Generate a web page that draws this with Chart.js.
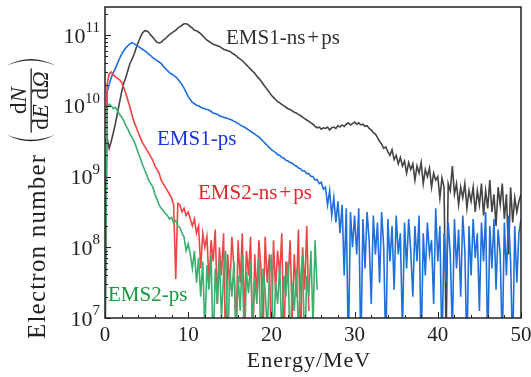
<!DOCTYPE html>
<html>
<head>
<meta charset="utf-8">
<script src="https://cdn.jsdelivr.net/npm/chart.js@4.4.1/dist/chart.umd.min.js"></script>
<style>
html,body{margin:0;padding:0;background:#fff;}
#wrap{width:531px;height:377px;}
</style>
</head>
<body>
<div id="wrap"><canvas id="c" width="531" height="377"></canvas></div>
<script>
// ---- data ----
const energy = [0,0.25,0.5,0.75,1,1.25,1.5,1.75,2,2.25,2.5,2.75,3,3.25,3.5,3.75,4,4.25,4.5,4.75,
5,5.25,5.5,5.75,6,6.25,6.5,6.75,7,7.25,7.5,7.75,8,8.25,8.5,8.75,9,9.25,9.5,9.75,
10,10.25,10.5,10.75,11,11.25,11.5,11.75,12,12.25,12.5,12.75,13,13.25,13.5,13.75,14,14.25,14.5,14.75,
15,15.25,15.5,15.75,16,16.25,16.5,16.75,17,17.25,17.5,17.75,18,18.25,18.5,18.75,19,19.25,19.5,19.75,
20,20.25,20.5,20.75,21,21.25,21.5,21.75,22,22.25,22.5,22.75,23,23.25,23.5,23.75,24,24.25,24.5,24.75,
25,25.25,25.5,25.75,26,26.25,26.5,26.75,27,27.25,27.5,27.75,28,28.25,28.5,28.75,29,29.25,29.5,29.75,
30,30.25,30.5,30.75,31,31.25,31.5,31.75,32,32.25,32.5,32.75,33,33.25,33.5,33.75,34,34.25,34.5,34.75,
35,35.25,35.5,35.75,36,36.25,36.5,36.75,37,37.25,37.5,37.75,38,38.25,38.5,38.75,39,39.25,39.5,39.75,
40,40.25,40.5,40.75,41,41.25,41.5,41.75,42,42.25,42.5,42.75,43,43.25,43.5,43.75,44,44.25,44.5,44.75,
45,45.25,45.5,45.75,46,46.25,46.5,46.75,47,47.25,47.5,47.75,48,48.25,48.5,48.75,49,49.25,49.5,49.75,50];

const ems1nsps = [3.16e9,3.55e9,2.51e9,3.16e9,4.17e9,5.62e9,7.94e9,1.12e10,1.58e10,2.09e10,2.51e10,3.16e10,3.98e10,4.57e10,5.37e10,6.61e10,7.94e10,9.33e10,1.07e11,1.15e11,
1.15e11,1.10e11,1.0e11,9.33e10,8.51e10,7.94e10,7.76e10,7.94e10,8.51e10,8.91e10,9.55e10,1.02e11,1.07e11,1.12e11,1.17e11,1.26e11,1.32e11,1.38e11,1.45e11,1.45e11,
1.41e11,1.32e11,1.26e11,1.17e11,1.15e11,1.10e11,1.05e11,9.77e10,9.12e10,8.51e10,8.13e10,7.76e10,7.41e10,7.24e10,7.08e10,6.92e10,6.61e10,6.31e10,6.17e10,6.03e10,
5.89e10,5.62e10,5.37e10,5.13e10,4.79e10,4.57e10,4.37e10,4.07e10,3.80e10,3.55e10,3.31e10,3.09e10,2.88e10,2.63e10,2.45e10,2.24e10,2.04e10,1.86e10,1.70e10,1.55e10,
1.41e10,1.32e10,1.23e10,1.15e10,1.10e10,1.05e10,1.0e10,9.55e9,9.12e9,8.91e9,8.51e9,8.13e9,7.94e9,7.59e9,7.24e9,6.92e9,6.61e9,6.31e9,6.03e9,5.75e9,
5.50e9,5.13e9,4.90e9,5.01e9,4.68e9,4.90e9,4.79e9,5.01e9,4.57e9,4.90e9,5.01e9,4.79e9,5.25e9,5.01e9,5.37e9,5.13e9,5.50e9,5.75e9,5.37e9,5.62e9,
5.89e9,5.50e9,5.75e9,5.37e9,5.50e9,5.13e9,5.25e9,4.79e9,4.57e9,4.17e9,3.98e9,3.55e9,3.16e9,2.88e9,2.51e9,2.63e9,2.24e9,2.0e9,2.40e9,1.74e9,
2.0e9,1.51e9,1.86e9,1.41e9,1.66e9,1.12e9,1.58e9,1.26e9,1.51e9,8.91e8,1.41e9,1.12e9,1.58e9,7.94e8,1.26e9,1.0e9,1.32e9,7.08e8,1.12e9,8.91e8,
1.0e9,5.01e8,9.55e8,7.08e8,5.0e6,7.94e8,6.31e8,1.41e9,5.62e8,7.94e8,3.98e8,7.08e8,5.01e8,7.94e8,3.55e8,6.31e8,4.47e8,7.08e8,3.16e8,6.31e8,
3.98e8,7.94e8,2.82e8,6.31e8,3.55e8,8.91e8,3.16e8,5.62e8,2.0e8,7.08e8,3.98e8,7.94e8,2.51e8,5.62e8,7.94e7,7.08e8,2.24e8,5.01e8,3.16e8,4.47e8,5.62e8];

const ems1ps = [3.16e6,1.58e10,2.0e10,2.51e10,2.95e10,3.39e10,3.98e10,4.68e10,5.37e10,6.03e10,6.61e10,7.08e10,7.59e10,7.76e10,7.59e10,7.24e10,6.92e10,6.61e10,6.31e10,6.03e10,
5.75e10,5.37e10,5.13e10,4.79e10,4.57e10,4.37e10,4.17e10,3.98e10,3.63e10,3.39e10,3.16e10,2.95e10,2.82e10,2.69e10,2.57e10,2.40e10,2.19e10,2.0e10,1.78e10,1.55e10,
1.35e10,1.23e10,1.12e10,1.07e10,1.02e10,1.0e10,9.55e9,9.33e9,9.12e9,8.91e9,8.71e9,8.32e9,7.94e9,7.76e9,7.59e9,7.24e9,7.08e9,6.92e9,6.76e9,6.61e9,
6.46e9,6.31e9,6.03e9,5.89e9,5.62e9,5.37e9,5.13e9,5.01e9,4.79e9,4.57e9,4.37e9,4.17e9,3.98e9,3.80e9,3.63e9,3.39e9,3.16e9,2.95e9,2.75e9,2.57e9,
2.40e9,2.29e9,2.19e9,2.04e9,2.0e9,1.86e9,1.82e9,1.70e9,1.66e9,1.58e9,1.55e9,1.45e9,1.41e9,1.32e9,1.29e9,1.20e9,1.20e9,1.10e9,1.10e9,1.0e9,
1.0e9,8.91e8,9.12e8,7.94e8,8.32e8,6.61e8,7.08e8,3.98e8,6.31e8,2.82e8,5.01e8,2.24e8,4.47e8,1.58e8,3.98e8,3.98e7,3.55e8,3.16e6,3.16e8,1.0e8,
2.82e8,7.94e7,3.55e8,3.16e6,2.51e8,5.01e7,3.16e8,1.26e8,1.58e7,2.82e8,7.94e7,2.24e8,3.16e7,3.16e8,1.0e8,3.16e6,2.51e8,6.31e7,2.0e8,2.51e7,
2.82e8,7.94e7,1.58e8,6.31e6,2.24e8,5.01e7,2.51e8,8.91e7,2.0e7,2.0e8,6.31e7,2.82e8,3.16e6,1.58e8,3.98e7,2.24e8,7.94e7,1.26e8,1.58e7,3.55e8,
6.31e7,2.0e8,3.16e6,1.58e8,3.16e7,2.24e8,7.94e7,6.31e6,2.51e8,5.01e7,1.78e8,2.0e7,2.82e8,8.91e7,3.16e6,2.0e8,3.98e7,2.51e8,7.08e7,1.58e8,
1.26e7,2.24e8,6.31e7,3.16e8,3.16e6,2.0e8,5.01e7,2.51e8,2.51e7,1.78e8,7.94e7,3.98e6,2.24e8,3.98e7,2.82e8,6.31e7,3.16e6,2.0e8,3.16e7,1.58e8,2.51e8];

const ems2nsps = [3.16e6,2.0e10,2.82e10,3.02e10,2.75e10,2.57e10,2.45e10,2.34e10,2.14e10,1.82e10,1.51e10,1.20e10,9.55e9,7.41e9,5.89e9,5.01e9,4.17e9,3.55e9,3.02e9,2.69e9,
2.40e9,2.14e9,1.91e9,1.70e9,1.41e9,1.26e9,1.12e9,8.91e8,7.94e8,7.08e8,6.31e8,5.62e8,5.01e8,3.98e8,3.55e7,4.17e8,3.98e8,3.16e8,3.55e8,2.82e8,
3.16e8,2.51e8,2.0e8,2.51e8,1.58e8,2.0e8,5.01e7,1.58e8,1.0e8,1.41e8,3.16e7,1.26e8,6.31e7,1.78e8,1.58e7,1.0e8,3.98e7,1.58e8,3.16e6,7.94e7,
2.51e7,1.41e8,5.01e7,6.31e6,1.26e8,3.16e7,1.58e8,1.0e7,8.91e7,3.98e7,1.41e8,3.16e6,7.94e7,2.0e7,1.26e8,5.01e7,6.31e6,1.41e8,3.16e7,7.94e7,
3.16e6,1.26e8,2.51e7,8.91e7,3.98e7,1.58e8,3.98e6,6.31e7,3.16e7,1.26e8,1.0e7,7.94e7,2.0e7,1.78e8,3.16e6,1.0e8,2.51e7,2.0e8,1.26e7];

const ems2ps = [3.16e6,8.91e9,1.05e10,1.0e10,9.12e9,9.55e9,8.51e9,7.59e9,6.92e9,6.17e9,5.25e9,4.68e9,3.98e9,3.55e9,3.16e9,2.63e9,2.14e9,1.82e9,1.48e9,1.26e9,
1.07e9,8.91e8,7.94e8,7.08e8,5.62e8,4.79e8,3.98e8,3.55e8,3.31e8,3.02e8,2.82e8,2.51e8,2.63e8,2.24e8,2.40e8,2.0e8,1.91e8,1.58e8,1.41e8,8.91e7,
1.12e8,7.94e7,5.01e7,8.91e7,3.16e7,7.08e7,2.0e7,6.31e7,6.31e6,5.62e7,2.51e7,7.94e7,3.16e6,5.01e7,1.58e7,7.08e7,1.0e7,3.98e7,8.91e7,3.16e6,
5.01e7,2.0e7,6.31e7,5.01e6,3.98e7,1.26e7,7.94e7,3.16e6,4.47e7,2.24e7,6.31e7,7.94e6,3.55e7,1.58e7,7.08e7,3.16e6,5.01e7,2.51e7,6.31e6,3.98e7,
7.94e7,3.16e6,3.16e7,1.58e7,5.62e7,5.01e6,3.98e7,2.0e7,6.31e7,3.16e6,3.16e7,1.26e7,5.01e7,6.31e6,3.55e7,7.94e7,3.16e6,3.98e7,2.0e7,8.91e7,
7.94e6,1.26e8,2.51e7];

const xTicks = [0,10,20,30,40,50];
const yTickExps = [7,8,9,10,11];
const seriesNames = ['EMS1-ns+ps','EMS1-ps','EMS2-ns+ps','EMS2-ps'];

// ---- build ----
function pts(vals){ return vals.map((v,i)=>({x:energy[i], y:v})); }

const SERIF = '"Liberation Serif", "Times New Roman", serif';

// draw a label, giving the '+' operator a little math-style spacing
function drawLabel(ctx, text, x, y){
  const parts = text.split('+');
  let cx = x;
  parts.forEach((p, i) => {
    if (i > 0) {
      cx += 2; ctx.fillText('+', cx, y); cx += ctx.measureText('+').width + 2;
    }
    ctx.fillText(p, cx, y); cx += ctx.measureText(p).width;
  });
}

const decor = {
  id:'decor',
  afterDraw(chart){
    const ctx = chart.ctx, a = chart.chartArea;
    const xs = chart.scales.x, ys = chart.scales.y;
    ctx.save();
    // frame
    ctx.strokeStyle = '#222'; ctx.lineWidth = 1.5;
    ctx.strokeRect(a.left, a.top, a.right - a.left, a.bottom - a.top);
    // x ticks (inside)
    ctx.lineWidth = 1; ctx.strokeStyle = '#222';
    ctx.beginPath();
    for (let v = 0; v <= 50; v += 2) {
      const px = Math.round(xs.getPixelForValue(v)) + 0.5;
      const len = (v % 10 === 0) ? 6 : 3;
      ctx.moveTo(px, a.bottom); ctx.lineTo(px, a.bottom - len);
    }
    // y ticks (inside)
    for (const k of yTickExps) {
      for (let m = 1; m <= 9; m++) {
        const val = m * Math.pow(10, k);
        if (val > ys.max) break;
        const py = Math.round(ys.getPixelForValue(val)) + 0.5;
        const len = (m === 1) ? 6 : 3;
        ctx.moveTo(a.left, py); ctx.lineTo(a.left + len, py);
      }
    }
    ctx.stroke();
    // x tick labels
    ctx.fillStyle = '#222';
    ctx.font = '21px ' + SERIF;
    ctx.textAlign = 'center'; ctx.textBaseline = 'alphabetic';
    for (const t of xTicks) ctx.fillText(String(t), xs.getPixelForValue(t), 341);
    // y tick labels 10^k
    for (const k of yTickExps) {
      const py = ys.getPixelForValue(Math.pow(10, k));
      ctx.font = '15px ' + SERIF;
      ctx.textAlign = 'right';
      const sup = String(k);
      const sw = ctx.measureText(sup).width;
      ctx.fillText(sup, 100, py - 3);
      ctx.font = '22px ' + SERIF;
      ctx.fillText('10', 100 - sw, py + 7.5);
    }
    // x title
    ctx.font = '22px ' + SERIF; ctx.textAlign = 'center';
    ctx.letterSpacing = '1px';
    ctx.fillText('Energy/MeV', 309, 367);
    ctx.letterSpacing = '0px';
    // series labels
    ctx.textAlign = 'left';
    ctx.font = '21px ' + SERIF;
    ctx.fillStyle = '#333'; drawLabel(ctx, seriesNames[0], 226, 44);
    ctx.fillStyle = '#1a35e0'; drawLabel(ctx, seriesNames[1], 157, 145);
    ctx.fillStyle = '#e8262a'; drawLabel(ctx, seriesNames[2], 198, 199);
    ctx.fillStyle = '#1a9940'; drawLabel(ctx, seriesNames[3], 108, 301);
    ctx.restore();
    drawYTitle(ctx);
  }
};

function paren(ctx, u, v0, v1, dir){
  // dir = -1 for '(' (bulge toward smaller u), +1 for ')'
  const vm = (v0 + v1) / 2;
  ctx.beginPath();
  ctx.moveTo(u, v0);
  ctx.quadraticCurveTo(u + dir * 13, vm, u, v1);
  ctx.quadraticCurveTo(u + dir * 10, vm, u, v0);
  ctx.closePath();
  ctx.fill();
}

function drawParts(ctx, parts, u, v, size){
  let x = u;
  for (const [t, it] of parts) {
    ctx.font = (it ? 'italic ' : '') + size + 'px ' + SERIF;
    ctx.fillText(t, x, v);
    x += ctx.measureText(t).width;
  }
  return x - u;
}
function partsWidth(ctx, parts, size){
  let w = 0;
  for (const [t, it] of parts) {
    ctx.font = (it ? 'italic ' : '') + size + 'px ' + SERIF;
    w += ctx.measureText(t).width;
  }
  return w;
}

function drawYTitle(ctx){
  ctx.save();
  ctx.translate(0, 377); ctx.rotate(-Math.PI / 2);
  ctx.fillStyle = '#222'; ctx.strokeStyle = '#222';
  ctx.textAlign = 'left'; ctx.textBaseline = 'alphabetic';
  ctx.font = '25px ' + SERIF;
  ctx.letterSpacing = '1.2px';
  let u = 38;
  ctx.fillText('Electron number', u, 45);
  u += ctx.measureText('Electron number').width + 10;
  ctx.letterSpacing = '0px';
  const num = [['d', false], ['N', true]];
  const den = [['d', false], ['E', true], ['\u2009', false], ['d', false], ['\u03A9', true]];
  const fs = 23;
  const nw = partsWidth(ctx, num, fs), dw = partsWidth(ctx, den, fs);
  const fw = Math.max(nw, dw) + 6;
  paren(ctx, u + 9, 7, 55, -1);
  u += 11;
  ctx.fillRect(u, 30.5, fw, 1.3);
  drawParts(ctx, num, u + (fw - nw) / 2, 26, fs);
  drawParts(ctx, den, u + (fw - dw) / 2, 48, fs);
  u += fw + 3;
  paren(ctx, u, 7, 55, 1);
  ctx.restore();
}

new Chart(document.getElementById('c'), {
  type: 'line',
  data: {
    datasets: [
      { label: seriesNames[3], data: pts(ems2ps), borderColor: '#3cae6e', borderWidth: 1.6, pointRadius: 0, tension: 0 },
      { label: seriesNames[2], data: pts(ems2nsps), borderColor: '#f04444', borderWidth: 1.6, pointRadius: 0, tension: 0 },
      { label: seriesNames[1], data: pts(ems1ps), borderColor: '#1f6fdc', borderWidth: 1.6, pointRadius: 0, tension: 0 },
      { label: seriesNames[0], data: pts(ems1nsps), borderColor: '#444444', borderWidth: 1.6, pointRadius: 0, tension: 0 }
    ]
  },
  options: {
    responsive: false,
    animation: false,
    layout: { padding: { left: 105, right: 10, top: 7, bottom: 59 } },
    plugins: { legend: { display: false }, tooltip: { enabled: false } },
    scales: {
      x: { type: 'linear', min: 0, max: 50,
           grid: { display: false, drawTicks: false }, border: { display: false },
           ticks: { display: false }, afterFit: s => { s.height = 0; } },
      y: { type: 'logarithmic', min: 1e7, max: 2.5e11,
           grid: { display: false, drawTicks: false }, border: { display: false },
           ticks: { display: false }, afterFit: s => { s.width = 0; } }
    }
  },
  plugins: [decor]
});
</script>
</body>
</html>
